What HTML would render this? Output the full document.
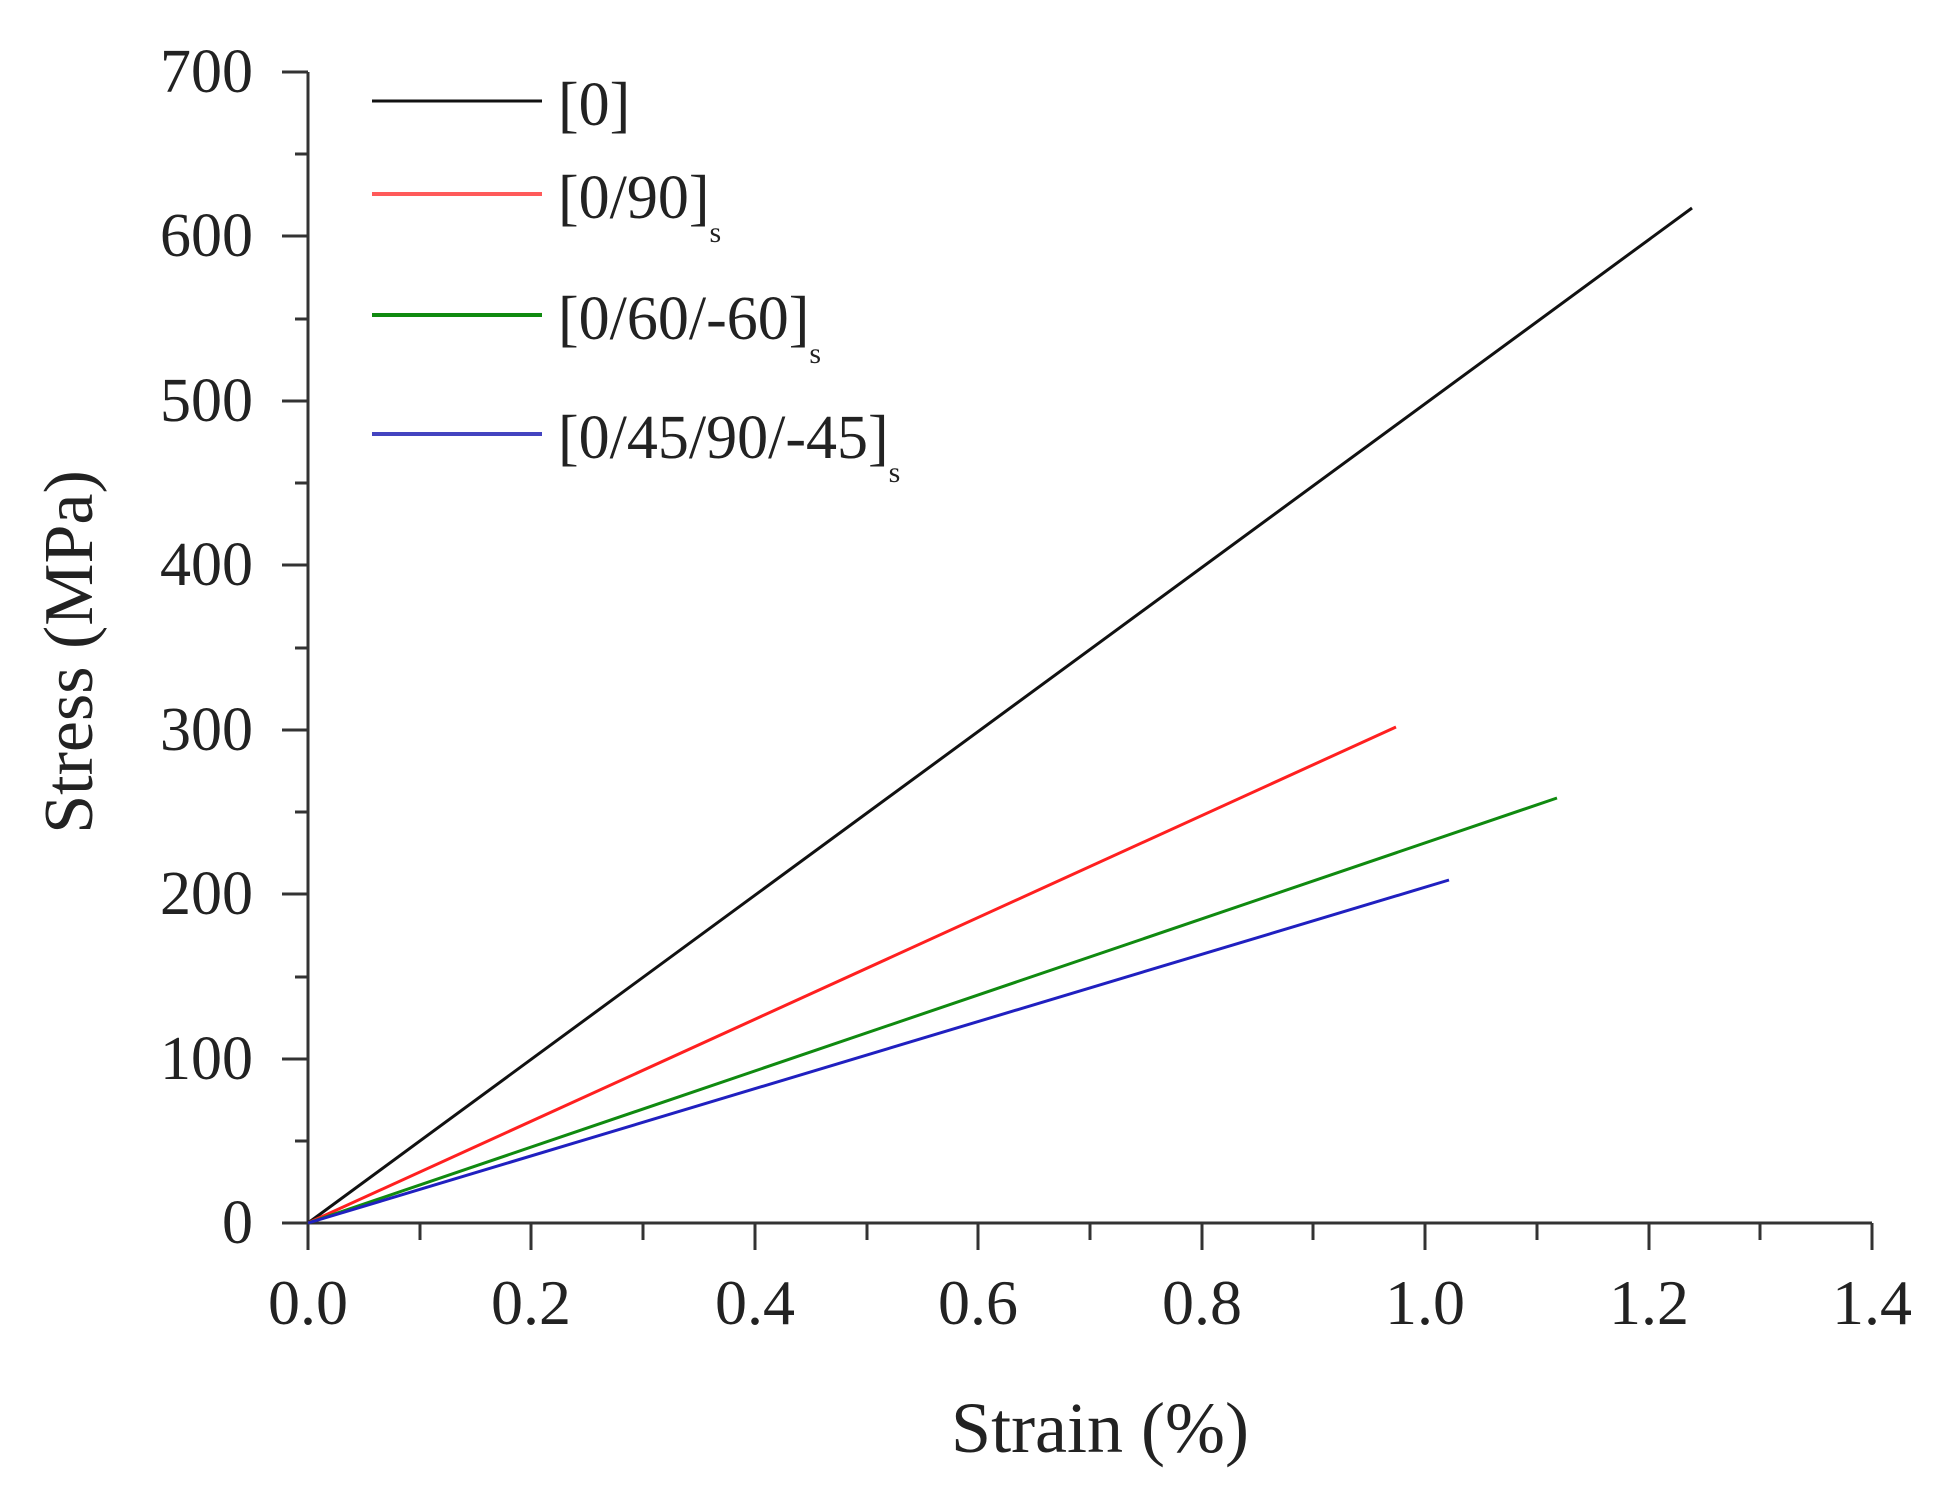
<!DOCTYPE html>
<html><head><meta charset="utf-8"><style>
html,body{margin:0;padding:0;background:#fff;}
svg{display:block;}
text{font-family:"Liberation Serif",serif;fill:#222;}
</style></head><body>
<svg width="1942" height="1502" viewBox="0 0 1942 1502" xmlns="http://www.w3.org/2000/svg">
<g stroke="#333" stroke-width="3" fill="none">
<line x1="308" y1="72" x2="308" y2="1225"/>
<line x1="306" y1="1223" x2="1872" y2="1223"/>
<line x1="282" y1="72" x2="308" y2="72"/>
<line x1="282" y1="236" x2="308" y2="236"/>
<line x1="282" y1="401" x2="308" y2="401"/>
<line x1="282" y1="565" x2="308" y2="565"/>
<line x1="282" y1="730" x2="308" y2="730"/>
<line x1="282" y1="894" x2="308" y2="894"/>
<line x1="282" y1="1059" x2="308" y2="1059"/>
<line x1="282" y1="1223" x2="308" y2="1223"/>
<line x1="295" y1="154" x2="308" y2="154"/>
<line x1="295" y1="319" x2="308" y2="319"/>
<line x1="295" y1="483" x2="308" y2="483"/>
<line x1="295" y1="648" x2="308" y2="648"/>
<line x1="295" y1="812" x2="308" y2="812"/>
<line x1="295" y1="977" x2="308" y2="977"/>
<line x1="295" y1="1141" x2="308" y2="1141"/>
<line x1="308" y1="1223" x2="308" y2="1250"/>
<line x1="420" y1="1223" x2="420" y2="1240"/>
<line x1="531" y1="1223" x2="531" y2="1250"/>
<line x1="643" y1="1223" x2="643" y2="1240"/>
<line x1="755" y1="1223" x2="755" y2="1250"/>
<line x1="867" y1="1223" x2="867" y2="1240"/>
<line x1="978" y1="1223" x2="978" y2="1250"/>
<line x1="1090" y1="1223" x2="1090" y2="1240"/>
<line x1="1202" y1="1223" x2="1202" y2="1250"/>
<line x1="1313" y1="1223" x2="1313" y2="1240"/>
<line x1="1425" y1="1223" x2="1425" y2="1250"/>
<line x1="1537" y1="1223" x2="1537" y2="1240"/>
<line x1="1649" y1="1223" x2="1649" y2="1250"/>
<line x1="1760" y1="1223" x2="1760" y2="1240"/>
<line x1="1872" y1="1223" x2="1872" y2="1250"/>
</g>
<g font-size="62" text-anchor="end">
<text x="253" y="92">700</text>
<text x="253" y="256">600</text>
<text x="253" y="421">500</text>
<text x="253" y="585">400</text>
<text x="253" y="750">300</text>
<text x="253" y="914">200</text>
<text x="253" y="1079">100</text>
<text x="253" y="1243">0</text>
</g>
<g font-size="64" text-anchor="middle">
<text x="308" y="1324">0.0</text>
<text x="531" y="1324">0.2</text>
<text x="755" y="1324">0.4</text>
<text x="978" y="1324">0.6</text>
<text x="1202" y="1324">0.8</text>
<text x="1425" y="1324">1.0</text>
<text x="1649" y="1324">1.2</text>
<text x="1872" y="1324">1.4</text>
</g>
<text x="1100" y="1452" font-size="72" text-anchor="middle">Strain (%)</text>
<text transform="translate(92,652) rotate(-90)" font-size="70" text-anchor="middle">Stress (MPa)</text>
<g stroke-width="3" fill="none">
<line x1="308" y1="1223" x2="1692" y2="208" stroke="#111"/>
<line x1="308" y1="1223" x2="1396" y2="727" stroke="#ff2020"/>
<line x1="308" y1="1223" x2="1557" y2="798" stroke="#108a10"/>
<line x1="308" y1="1223" x2="1449" y2="880" stroke="#2020c0"/>
<line x1="372" y1="101" x2="542" y2="101" stroke="#111"/>
<line x1="372" y1="194" x2="542" y2="194" stroke="#ff5a5a" stroke-width="4"/>
<line x1="372" y1="315" x2="542" y2="315" stroke="#108a10" stroke-width="4"/>
<line x1="372" y1="434" x2="542" y2="434" stroke="#4444c0" stroke-width="4"/>
</g>
<g font-size="62">
<text x="558" y="125">[0]</text>
<text x="558" y="218">[0/90]<tspan font-size="30" dy="24">s</tspan></text>
<text x="558" y="339">[0/60/-60]<tspan font-size="30" dy="24">s</tspan></text>
<text x="558" y="458">[0/45/90/-45]<tspan font-size="30" dy="24">s</tspan></text>
</g>
</svg>
</body></html>
